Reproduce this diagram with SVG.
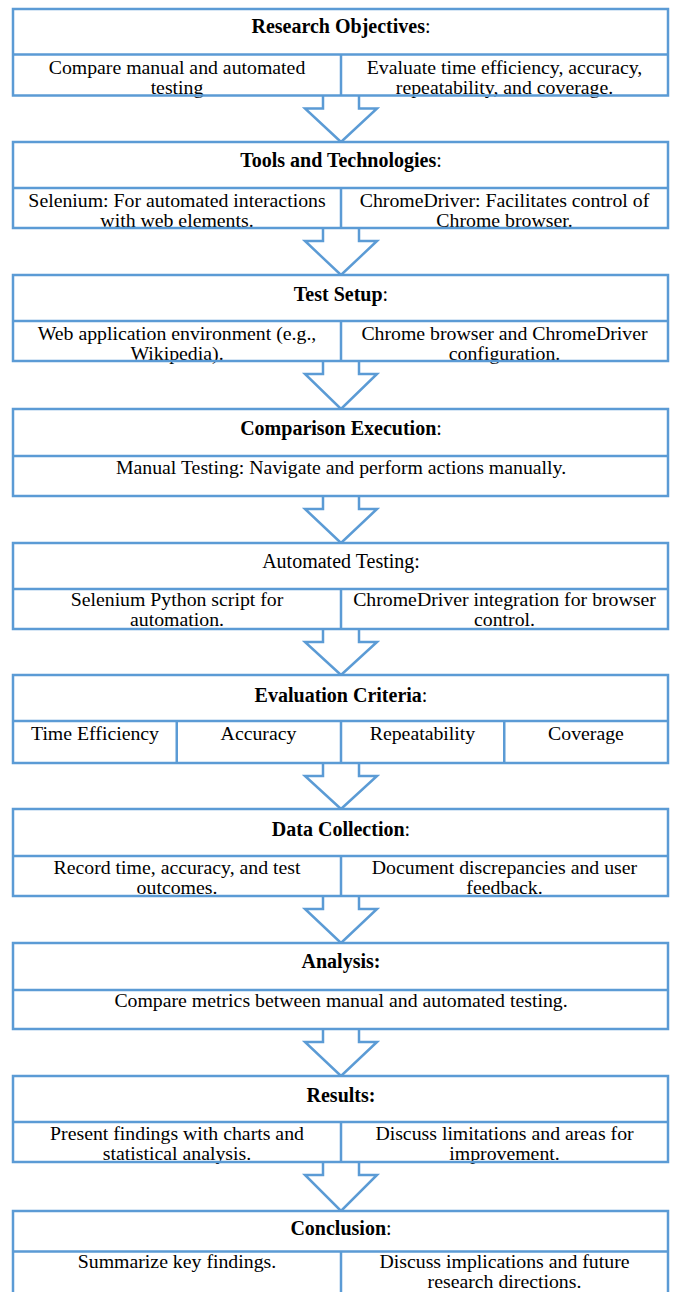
<svg xmlns="http://www.w3.org/2000/svg" width="673" height="1292" viewBox="0 0 673 1292">
<style>
.bg{fill:#ffffff;stroke:none}
.ln{fill:none;stroke:#5B9BD5;stroke-width:2.5}
.ar{fill:#ffffff;stroke:#5B9BD5;stroke-width:2.5;stroke-linejoin:miter}
.t{font-family:"Liberation Serif","Times New Roman",serif;font-size:20px;fill:#000000;text-anchor:middle}
.s{font-family:"Liberation Serif","Times New Roman",serif;font-size:18px;fill:#000000;text-anchor:middle}
.b{font-weight:bold}
</style>
<rect x="0" y="0" width="673" height="1292" fill="#ffffff"/>
<g id="connectors">
<path class="ar" d="M323,95.5 V108.5 H305 L341,142 L377,108.5 H359 V95.5"/>
<path class="ar" d="M323,228 V241 H305 L341,275 L377,241 H359 V228"/>
<path class="ar" d="M323,361 V374 H305 L341,409 L377,374 H359 V361"/>
<path class="ar" d="M323,496 V509 H305 L341,543 L377,509 H359 V496"/>
<path class="ar" d="M323,629 V642 H305 L341,675 L377,642 H359 V629"/>
<path class="ar" d="M323,763 V776 H305 L341,809 L377,776 H359 V763"/>
<path class="ar" d="M323,896 V909 H305 L341,943 L377,909 H359 V896"/>
<path class="ar" d="M323,1029 V1042 H305 L341,1076 L377,1042 H359 V1029"/>
<path class="ar" d="M323,1162 V1175 H305 L341,1211 L377,1175 H359 V1162"/>
</g>
<g id="n1">
<rect class="bg" x="13" y="9" width="655" height="86.5"/>
<text class="t" x="341" y="33"><tspan class="b">Research Objectives</tspan>:</text>
<text class="s" transform="translate(177,73.5) scale(1.1,1)">Compare manual and automated</text>
<text class="s" transform="translate(177,93.5) scale(1.1,1)">testing</text>
<text class="s" transform="translate(504.5,73.5) scale(1.1,1)">Evaluate time efficiency, accuracy,</text>
<text class="s" transform="translate(504.5,93.5) scale(1.1,1)">repeatability, and coverage.</text>
<rect class="ln" x="13" y="9" width="655" height="86.5"/>
<path class="ln" d="M13,54.5 H668 M341,54.5 V95.5"/>
</g>
<g id="n2">
<rect class="bg" x="13" y="142" width="655" height="86"/>
<text class="t" x="341" y="167"><tspan class="b">Tools and Technologies</tspan>:</text>
<text class="s" transform="translate(177,206.5) scale(1.1,1)">Selenium: For automated interactions</text>
<text class="s" transform="translate(177,226.5) scale(1.1,1)">with web elements.</text>
<text class="s" transform="translate(504.5,206.5) scale(1.1,1)">ChromeDriver: Facilitates control of</text>
<text class="s" transform="translate(504.5,226.5) scale(1.1,1)">Chrome browser.</text>
<rect class="ln" x="13" y="142" width="655" height="86"/>
<path class="ln" d="M13,188 H668 M341,188 V228"/>
</g>
<g id="n3">
<rect class="bg" x="13" y="275" width="655" height="86"/>
<text class="t" x="341" y="300.5"><tspan class="b">Test Setup</tspan>:</text>
<text class="s" transform="translate(177,339.5) scale(1.1,1)">Web application environment (e.g.,</text>
<text class="s" transform="translate(177,359.5) scale(1.1,1)">Wikipedia).</text>
<text class="s" transform="translate(504.5,339.5) scale(1.1,1)">Chrome browser and ChromeDriver</text>
<text class="s" transform="translate(504.5,359.5) scale(1.1,1)">configuration.</text>
<rect class="ln" x="13" y="275" width="655" height="86"/>
<path class="ln" d="M13,321 H668 M341,321 V361"/>
</g>
<g id="n4">
<rect class="bg" x="13" y="409" width="655" height="87"/>
<text class="t" x="341" y="435"><tspan class="b">Comparison Execution</tspan>:</text>
<text class="s" transform="translate(341,474) scale(1.1,1)">Manual Testing: Navigate and perform actions manually.</text>
<rect class="ln" x="13" y="409" width="655" height="87"/>
<path class="ln" d="M13,456 H668"/>
</g>
<g id="n5">
<rect class="bg" x="13" y="543" width="655" height="86"/>
<text class="t" x="341" y="568">Automated Testing:</text>
<text class="s" transform="translate(177,605.5) scale(1.1,1)">Selenium Python script for</text>
<text class="s" transform="translate(177,625.5) scale(1.1,1)">automation.</text>
<text class="s" transform="translate(504.5,605.5) scale(1.1,1)">ChromeDriver integration for browser</text>
<text class="s" transform="translate(504.5,625.5) scale(1.1,1)">control.</text>
<rect class="ln" x="13" y="543" width="655" height="86"/>
<path class="ln" d="M13,589 H668 M341,589 V629"/>
</g>
<g id="n6">
<rect class="bg" x="13" y="675" width="655" height="88"/>
<text class="t" x="341" y="702"><tspan class="b">Evaluation Criteria</tspan>:</text>
<text class="s" transform="translate(95,740) scale(1.1,1)">Time Efficiency</text>
<text class="s" transform="translate(258.5,740) scale(1.1,1)">Accuracy</text>
<text class="s" transform="translate(422.5,740) scale(1.1,1)">Repeatability</text>
<text class="s" transform="translate(586,740) scale(1.1,1)">Coverage</text>
<rect class="ln" x="13" y="675" width="655" height="88"/>
<path class="ln" d="M13,721 H668 M176.75,721 V763 M341,721 V763 M504.25,721 V763"/>
</g>
<g id="n7">
<rect class="bg" x="13" y="809" width="655" height="87"/>
<text class="t" x="341" y="835.5"><tspan class="b">Data Collection</tspan>:</text>
<text class="s" transform="translate(177,873.5) scale(1.1,1)">Record time, accuracy, and test</text>
<text class="s" transform="translate(177,893.5) scale(1.1,1)">outcomes.</text>
<text class="s" transform="translate(504.5,873.5) scale(1.1,1)">Document discrepancies and user</text>
<text class="s" transform="translate(504.5,893.5) scale(1.1,1)">feedback.</text>
<rect class="ln" x="13" y="809" width="655" height="87"/>
<path class="ln" d="M13,856 H668 M341,856 V896"/>
</g>
<g id="n8">
<rect class="bg" x="13" y="943" width="655" height="86"/>
<text class="t b" x="341" y="968">Analysis:</text>
<text class="s" transform="translate(341,1007) scale(1.1,1)">Compare metrics between manual and automated testing.</text>
<rect class="ln" x="13" y="943" width="655" height="86"/>
<path class="ln" d="M13,990 H668"/>
</g>
<g id="n9">
<rect class="bg" x="13" y="1076" width="655" height="86"/>
<text class="t b" x="341" y="1101.5">Results:</text>
<text class="s" transform="translate(177,1140) scale(1.1,1)">Present findings with charts and</text>
<text class="s" transform="translate(177,1160) scale(1.1,1)">statistical analysis.</text>
<text class="s" transform="translate(504.5,1140) scale(1.1,1)">Discuss limitations and areas for</text>
<text class="s" transform="translate(504.5,1160) scale(1.1,1)">improvement.</text>
<rect class="ln" x="13" y="1076" width="655" height="86"/>
<path class="ln" d="M13,1122 H668 M341,1122 V1162"/>
</g>
<g id="n10">
<rect class="bg" x="13" y="1211" width="655" height="95"/>
<text class="t" x="341" y="1235"><tspan class="b">Conclusion</tspan>:</text>
<text class="s" transform="translate(177,1268) scale(1.1,1)">Summarize key findings.</text>
<text class="s" transform="translate(504.5,1268) scale(1.1,1)">Discuss implications and future</text>
<text class="s" transform="translate(504.5,1288) scale(1.1,1)">research directions.</text>
<rect class="ln" x="13" y="1211" width="655" height="95"/>
<path class="ln" d="M13,1251.5 H668 M341,1251.5 V1306"/>
</g>
</svg>
